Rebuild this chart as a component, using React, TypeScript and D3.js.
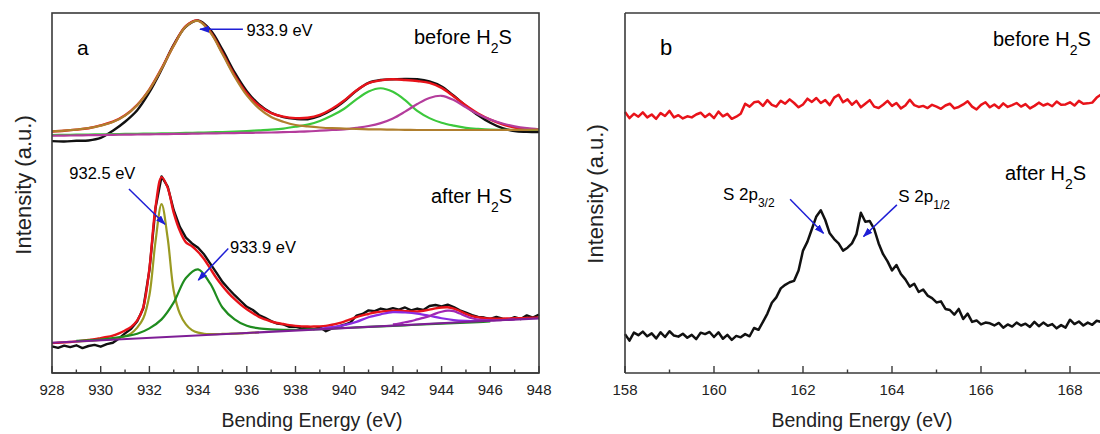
import * as d3 from "d3";

const FONT = "'Liberation Sans', Arial, Helvetica, sans-serif";

// ---------- panel a : Cu 2p (intensity in arbitrary units, 0..100) ----------
// before H2S, 928..948 eV every 0.5 eV
const cuTopStart = 928;
const cuTopStep = 0.5;
const cuTopBlack = [
  64.4, 64.3, 64.5, 64.6, 65.3, 67.3, 69.8, 73.0, 78.0, 84.3,
  91.2, 96.2, 97.9, 95.3, 89.8, 83.5, 78.3, 74.6, 72.3, 71.1,
  70.6, 70.5, 71.4, 73.1, 75.5, 78.4, 80.6, 81.4, 81.6, 81.7,
  81.6, 81.0, 79.6, 77.0, 74.2, 71.6, 69.5, 68.0, 67.2, 67.0,
  66.9,
];
const cuTopFit = [
  67.1, 67.3, 67.6, 68.0, 68.8, 69.8, 71.6, 74.5, 78.8, 84.6,
  91.0, 96.4, 97.9, 94.8, 88.9, 82.7, 77.7, 74.3, 72.2, 71.2,
  70.8, 70.9, 71.7, 73.4, 75.7, 78.5, 80.5, 81.3, 81.6, 81.4,
  81.1, 80.6, 79.2, 76.8, 74.3, 72.1, 70.4, 69.1, 68.2, 67.8,
  67.6,
];
const cuTopMain = [
  67.1, 67.3, 67.6, 68.0, 68.7, 69.7, 71.5, 74.4, 78.7, 84.5,
  90.9, 96.3, 97.8, 94.6, 88.6, 82.3, 77.1, 73.5, 71.1, 69.8,
  68.9, 68.5, 68.2, 68.0, 67.9, 67.8, 67.7, 67.65, 67.6, 67.55,
  67.5, 67.5, 67.5, 67.5, 67.5, 67.5, 67.5, 67.5, 67.55, 67.55,
  67.6,
];
const cuTopSatA = [
  66.1, 66.15, 66.2, 66.25, 66.3, 66.35, 66.4, 66.45, 66.5, 66.55,
  66.6, 66.7, 66.75, 66.85, 66.95, 67.05, 67.2, 67.4, 67.6, 67.9,
  68.4, 69.0, 70.0, 71.5, 73.4, 76.0, 78.2, 79.1, 78.1, 75.8,
  72.8, 70.8, 69.5, 68.7, 68.1, 67.8, 67.6, 67.55, 67.5, 67.5,
  67.5,
];
const cuTopSatB = [
  65.9, 65.95, 66.0, 66.05, 66.1, 66.15, 66.2, 66.25, 66.3, 66.35,
  66.4, 66.45, 66.5, 66.55, 66.6, 66.65, 66.7, 66.75, 66.8, 66.9,
  67.0, 67.1, 67.3, 67.5, 67.7, 68.1, 68.6, 69.4, 70.7, 72.6,
  74.7, 76.4, 77.0, 75.8, 73.8, 71.9, 70.4, 69.3, 68.5, 68.0,
  67.7,
];

// after H2S, 928..948 eV every 0.25 eV
const cuBotStart = 928;
const cuBotStep = 0.25;
const cuBotBlack = [
  7.4, 7.0, 7.6, 7.2, 7.7, 6.9, 7.5, 7.8, 7.3, 8.0,
  8.4, 9.6, 11.0, 12.3, 14.4, 18.0, 28.5, 45.8, 54.6, 51.8,
  45.2, 40.6, 37.6, 36.0, 34.8, 32.9, 30.4, 27.9, 25.3, 23.4,
  21.6, 20.0, 18.4, 17.5, 16.1, 15.3, 14.4, 13.7, 13.5, 12.8,
  12.9, 12.4, 12.6, 12.2, 12.7, 11.6, 12.4, 12.9, 13.4, 14.0,
  15.9, 16.4, 17.4, 17.2, 17.9, 17.5, 18.0, 17.6, 18.2, 17.4,
  17.9, 17.5, 18.6, 18.9, 18.5, 19.0, 18.3, 17.4, 16.8, 16.1,
  15.6, 15.4, 15.0, 15.6, 15.1, 14.8, 15.5, 15.0, 16.0, 15.4,
  16.2,
];
const cuBotFit = [
  8.3, 8.4, 8.5, 8.6, 8.8, 9.0, 9.2, 9.4, 9.7, 10.0,
  10.4, 11.0, 11.8, 12.8, 14.6, 18.3, 29.0, 46.0, 54.4, 51.5,
  44.5, 39.5, 36.3, 35.2, 33.6, 31.6, 29.0, 26.4, 24.2, 22.2,
  20.5, 19.0, 17.7, 16.6, 15.6, 14.9, 14.3, 13.9, 13.6, 13.3,
  13.1, 12.95, 12.9, 12.9, 12.95, 13.1, 13.4, 13.8, 14.3, 14.9,
  15.5, 16.0, 16.4, 16.8, 17.05, 17.2, 17.3, 17.3, 17.2, 17.1,
  17.1, 17.3, 17.6, 17.95, 18.2, 18.25, 17.9, 17.2, 16.4, 15.8,
  15.45, 15.25, 15.15, 15.1, 15.1, 15.15, 15.2, 15.25, 15.3, 15.35,
  15.4,
];
// 932.5 eV component, 929..936.5 every 0.25
const cuBot9325 = [
  8.75, 8.85, 8.95, 9.05, 9.2, 9.3, 9.5, 9.8, 10.2, 11.0,
  12.6, 15.2, 21.6, 36.5, 46.9, 37.5, 22.8, 16.5, 13.5, 11.9,
  11.2, 10.9, 10.8, 10.8, 10.85, 10.9, 10.95, 11.0, 11.1, 11.2,
  11.3,
];
// 933.9 eV component, 929..946 every 0.5
const cuBot9339 = [
  8.9, 9.1, 9.3, 9.7, 10.2, 10.9, 12.4, 14.9, 19.6, 26.4,
  28.8, 24.8, 18.2, 14.9, 13.1, 12.4, 12.1, 12.0, 12.0, 12.1,
  12.2, 12.35, 12.5, 12.65, 12.8, 12.95, 13.1, 13.25, 13.4, 13.55,
  13.7, 13.85, 14.0, 14.15, 14.3,
];
// satellites
const cuBotSatA = [12.3, 12.75, 13.3, 14.2, 15.5, 16.3, 16.9, 16.8, 16.5, 15.9, 15.2, 14.7, 14.5, 14.45, 14.55]; // 939..946, 0.5
const cuBotSatB = [
  13.5, 13.75, 14.1, 14.4, 14.9, 15.3, 15.8, 16.5, 17.0, 17.3,
  17.2, 16.5, 15.8, 15.2, 14.85, 14.7, 14.65, 14.65, 14.72, 14.8,
  14.9,
]; // 942..947, 0.25
const cuBotBase = [8.4, 15.2]; // at 928 and 948

// ---------- panel b : S 2p, 158.0..168.8 eV every 0.1 eV ----------
const sStart = 158;
const sStep = 0.1;
const sBefore = [
  72.5, 70.8, 72.0, 71.2, 72.4, 71.0, 71.8, 70.6, 72.2, 71.4,
  72.8, 71.0, 71.6, 70.7, 71.3, 71.0, 71.8, 72.3, 71.1, 72.0,
  70.8, 72.6, 71.3, 72.0, 70.6, 71.2, 72.0, 74.8, 74.0, 75.2,
  75.4, 74.2, 75.8, 74.5, 74.0, 75.6, 74.8, 76.0, 75.0, 73.8,
  74.6, 76.2, 75.3, 76.4, 75.0, 75.8, 74.4, 76.5, 77.3, 75.2,
  76.0, 74.5, 75.6, 73.8, 74.8, 75.8, 74.0, 73.6, 74.5, 75.6,
  74.2, 75.0, 73.5, 74.3, 75.9, 74.4, 73.9, 74.2, 73.6, 74.5,
  74.0, 73.4, 74.3, 74.8, 73.5, 73.9, 74.6, 75.5, 74.0, 73.2,
  74.5, 75.2, 73.8, 74.6, 73.6, 74.9, 73.9, 74.4, 75.0, 74.0,
  74.7, 73.5, 74.2, 75.1, 74.3, 74.8, 74.1, 75.4, 74.5, 74.6,
  75.2, 74.3, 75.6, 74.8, 74.9, 75.1, 76.5, 77.4, 76.8,
];
const sAfter = [
  10.8, 9.0, 11.2, 10.5, 11.5, 10.2, 11.0, 9.6, 11.3, 10.0,
  11.6, 10.4, 10.1, 10.9, 9.8, 10.6, 9.4, 11.2, 10.8, 11.4,
  10.0, 11.3, 9.5, 10.6, 9.2, 10.3, 9.9, 10.8, 10.2, 12.5,
  12.0, 14.2, 16.5, 19.5, 21.0, 23.5, 24.5, 25.2, 25.6, 28.5,
  34.0, 36.5, 40.0, 43.5, 45.2, 42.5, 38.8, 37.2, 36.0, 34.0,
  34.8, 36.0, 38.5, 44.5, 42.0, 42.2, 40.0, 36.0, 33.0, 31.0,
  28.5, 30.0, 27.5, 26.0, 24.0, 24.8, 22.5, 23.2, 21.5, 20.8,
  19.6, 19.9, 17.8, 17.5, 16.2, 17.8, 15.0, 16.5, 14.2, 14.6,
  13.5, 14.0, 13.8, 13.2, 13.9, 12.6, 13.5, 12.9, 14.0, 13.2,
  13.7, 12.8, 14.2, 13.0, 14.0, 13.1, 13.6, 12.4, 13.3, 12.6,
  14.8, 13.6, 14.3, 13.2, 14.0, 13.4, 14.5, 14.2, 14.8,
];

const aTicks = [928, 930, 932, 934, 936, 938, 940, 942, 944, 946, 948];
const aMinor = [929, 931, 933, 935, 937, 939, 941, 943, 945, 947];
const bTicks = [158, 160, 162, 164, 166, 168];
const bMinor = [159, 161, 163, 165, 167];

const pts = (start: number, step: number, vals: number[]) =>
  vals.map((v, i) => [start + i * step, v] as [number, number]);

const xA = d3.scaleLinear().domain([928, 948]).range([52, 539]);
const xB = d3.scaleLinear().domain([158, 170]).range([625, 1159]);
const yI = d3.scaleLinear().domain([0, 100]).range([373, 13]);

const lineFor = (x: d3.ScaleLinear<number, number>, smooth: boolean) =>
  d3
    .line<[number, number]>()
    .x((d) => x(d[0]))
    .y((d) => yI(d[1]))
    .curve(smooth ? d3.curveCatmullRom.alpha(0.5) : d3.curveLinear);

const BLUE = "#1f1fd6";
const FRAME = "#3a3a3a";

function Arrow({ x1, y1, x2, y2 }: { x1: number; y1: number; x2: number; y2: number }) {
  return <line x1={x1} y1={y1} x2={x2} y2={y2} stroke={BLUE} strokeWidth={1.5} markerEnd="url(#ah)" />;
}

function H2S({ x, y, label }: { x: number; y: number; label: string }) {
  return (
    <text x={x} y={y} fontSize={20}>
      {label} H
      <tspan fontSize={14} dy={9}>2</tspan>
      <tspan fontSize={20} dy={-9}>S</tspan>
    </text>
  );
}

function Axis({ x, ticks, minor, left, right }: { x: d3.ScaleLinear<number, number>; ticks: number[]; minor: number[]; left: number; right: number }) {
  return (
    <g>
      <line x1={left} x2={right} y1={373} y2={373} stroke={FRAME} strokeWidth={1.6} />
      {ticks.map((t) => (
        <g key={t}>
          <line x1={x(t)} x2={x(t)} y1={373} y2={366} stroke={FRAME} strokeWidth={1.4} />
          <text x={x(t)} y={395} fontSize={15} textAnchor="middle" fill="#222">{t}</text>
        </g>
      ))}
      {minor.map((t) => (
        <line key={t} x1={x(t)} x2={x(t)} y1={373} y2={369.5} stroke={FRAME} strokeWidth={1.4} />
      ))}
    </g>
  );
}

export default function App() {
  const la = lineFor(xA, true);
  const laRaw = lineFor(xA, false);
  const lb = lineFor(xB, false);

  return (
    <svg
      width={1100}
      height={434}
      style={{ position: "absolute", left: 0, top: 0, background: "#fff" }}
      fontFamily={FONT}
    >
      <defs>
        <marker id="ah" viewBox="0 0 10 7" refX={9} refY={3.5} markerWidth={10} markerHeight={7} markerUnits="userSpaceOnUse" orient="auto">
          <path d="M0,0 L10,3.5 L0,7 z" fill={BLUE} />
        </marker>
      </defs>

      {/* ---------------- panel a ---------------- */}
      <g fill="none" strokeWidth={2.2} strokeLinejoin="round">
        <path d={la(pts(cuTopStart, cuTopStep, cuTopBlack)) ?? ""} stroke="#111" strokeWidth={2.4} />
        <path d={la(pts(cuTopStart, cuTopStep, cuTopFit)) ?? ""} stroke="#e8131a" strokeWidth={2.4} />
        <path d={la(pts(cuTopStart, cuTopStep, cuTopSatA)) ?? ""} stroke="#3cc83c" />
        <path d={la(pts(cuTopStart, cuTopStep, cuTopSatB)) ?? ""} stroke="#b43c9c" />
        <path d={la(pts(cuTopStart, cuTopStep, cuTopMain)) ?? ""} stroke="#b07f2e" />

        <path d={laRaw(pts(cuBotStart, cuBotStep, cuBotBlack)) ?? ""} stroke="#111" strokeWidth={2.4} />
        <path d={la(pts(cuBotStart, cuBotStep, cuBotFit)) ?? ""} stroke="#e8131a" strokeWidth={2.4} />
        <path d={la(pts(929, 0.25, cuBot9325)) ?? ""} stroke="#9a9a22" />
        <path d={la(pts(929, 0.5, cuBot9339)) ?? ""} stroke="#1f8c1f" />
        <path d={la(pts(939, 0.5, cuBotSatA)) ?? ""} stroke="#8a2be2" />
        <path d={la(pts(942, 0.25, cuBotSatB)) ?? ""} stroke="#a028b4" />
        <path d={la(pts(928, 20, cuBotBase)) ?? ""} stroke="#7e1e96" />
      </g>

      <rect x={52} y={13} width={487} height={360} fill="none" stroke={FRAME} strokeWidth={1.6} />
      <Axis x={xA} ticks={aTicks} minor={aMinor} left={52} right={539} />

      <text x={77} y={55} fontSize={21}>a</text>
      <H2S x={414} y={43.5} label="before" />
      <H2S x={431} y={203} label="after" />

      <Arrow x1={xA(935.84)} y1={yI(95.5)} x2={xA(934.08)} y2={yI(95.5)} />
      <text x={xA(935.99)} y={yI(93.6)} fontSize={16.5}>933.9 eV</text>
      <Arrow x1={xA(931.16)} y1={yI(51.1)} x2={xA(932.64)} y2={yI(41.3)} />
      <text x={xA(928.71)} y={yI(53.9)} fontSize={16.5}>932.5 eV</text>
      <Arrow x1={xA(935.24)} y1={yI(34.6)} x2={xA(934.01)} y2={yI(25.8)} />
      <text x={xA(935.31)} y={yI(33.3)} fontSize={16.5}>933.9 eV</text>

      <text transform="translate(31,185) rotate(-90)" fontSize={22} textAnchor="middle" fill="#222">Intensity (a.u.)</text>
      <text x={312} y={427} fontSize={19.5} textAnchor="middle" fill="#222">Bending Energy (eV)</text>

      {/* ---------------- panel b ---------------- */}
      <g fill="none" strokeWidth={2.5} strokeLinejoin="round">
        <path d={lb(pts(sStart, sStep, sBefore)) ?? ""} stroke="#e8131a" />
        <path d={lb(pts(sStart, sStep, sAfter)) ?? ""} stroke="#111" />
      </g>

      <line x1={625} x2={1159} y1={13} y2={13} stroke={FRAME} strokeWidth={1.6} />
      <line x1={625} x2={625} y1={13} y2={373} stroke={FRAME} strokeWidth={1.6} />
      <Axis x={xB} ticks={bTicks} minor={bMinor} left={625} right={1159} />

      <text x={660} y={55} fontSize={22}>b</text>
      <H2S x={993} y={45.7} label="before" />
      <H2S x={1005} y={180} label="after" />

      <Arrow x1={xB(161.71)} y1={yI(48.25)} x2={xB(162.46)} y2={yI(38.8)} />
      <text x={xB(160.2)} y={yI(48.1)} fontSize={17}>
        S 2p<tspan fontSize={12} dy={7}>3/2</tspan>
      </text>
      <Arrow x1={xB(164.11)} y1={yI(46.7)} x2={xB(163.36)} y2={yI(37.9)} />
      <text x={xB(164.14)} y={yI(47.6)} fontSize={17}>
        S 2p<tspan fontSize={12} dy={7}>1/2</tspan>
      </text>

      <text transform="translate(603,194) rotate(-90)" fontSize={22} textAnchor="middle" fill="#222">Intensity (a.u.)</text>
      <text x={862} y={427} fontSize={19.5} textAnchor="middle" fill="#222">Bending Energy (eV)</text>
    </svg>
  );
}
